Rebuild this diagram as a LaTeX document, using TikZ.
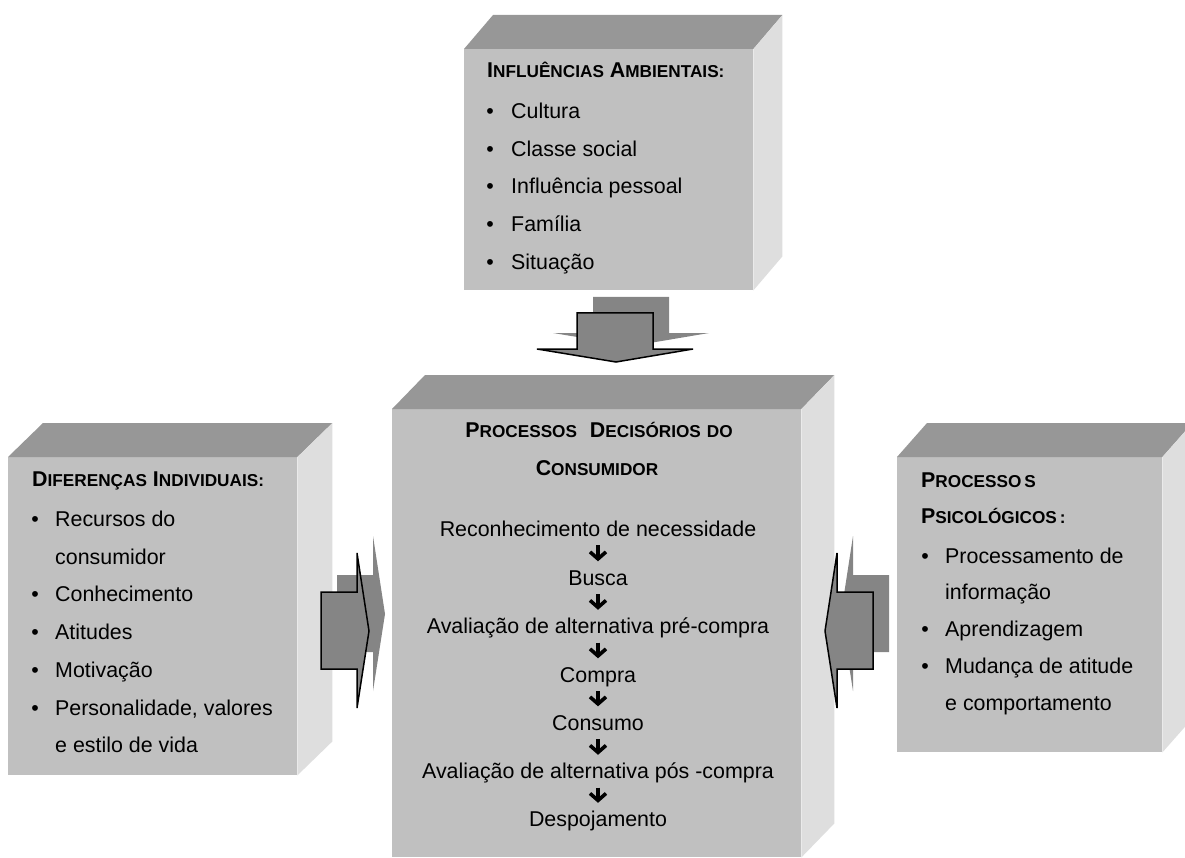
\documentclass[tikz,border=0pt]{standalone}
\usepackage{fontspec}
\setmainfont{Liberation Sans}
\usetikzlibrary{arrows.meta,calc}
\definecolor{frontgray}{HTML}{C0C0C0}
\definecolor{topgray}{HTML}{979797}
\definecolor{sidegray}{HTML}{DEDEDE}
\definecolor{arrowgray}{HTML}{858585}
\newcommand\capsc[2]{{\fontsize{21.4}{24}\selectfont #1}{\fontsize{17.2}{20}\selectfont #2}}
\newcommand\extrude[2]{%
  \fill[topf] (#1.north west) -- ++(#2,-34) -- ($(#1.north east)+(#2,-34)$) -- (#1.north east) -- cycle;
  \fill[sidef] (#1.north east) -- ++(#2,-34) -- ($(#1.south east)+(#2,-34)$) -- (#1.south east) -- cycle;}
\begin{document}
\begin{tikzpicture}[x=1pt,y=-1pt,
  front/.style={fill=frontgray, draw=none, inner sep=0, anchor=north west},
  topf/.style={fill=topgray},
  sidef/.style={fill=sidegray},
  body/.style={font=\fontsize{21.4}{24}\selectfont, inner sep=0, anchor=base west},
  bul/.style={font=\fontsize{21.4}{24}\selectfont, inner sep=0, anchor=base},
  hd/.style={font=\fontsize{21.4}{24}\selectfont\bfseries, inner sep=0, anchor=base west},
  hdc/.style={font=\fontsize{21.4}{24}\selectfont\bfseries, inner sep=0, anchor=base},
  stepnode/.style={font=\fontsize{21.4}{24}\selectfont, inner sep=0, anchor=base, text height=15.5pt, text depth=4.5pt},
  flow/.style={line width=3.6pt, -{Straight Barb[length=7pt,width=16pt,line width=3.6pt]}, shorten <=4.5pt, shorten >=8pt},
  blockarrow/.style={fill=arrowgray, draw=black, line width=1.5pt, line join=miter},
  shadowarrow/.style={fill=arrowgray}
]
\useasboundingbox (0,0) rectangle (1185,858);
\clip (0,0) rectangle (1185,858);

% boxes
\node[front, minimum width=289pt, minimum height=241pt] (env) at (464,49) {};
\extrude{env}{29}
\node[front, minimum width=409pt, minimum height=448pt] (dec) at (392,409) {};
\extrude{dec}{33}
\node[front, minimum width=289pt, minimum height=318pt] (ind) at (8,457) {};
\extrude{ind}{35}
\node[front, minimum width=265pt, minimum height=295pt] (psy) at (897,457) {};
\extrude{psy}{30}

% block arrows
\fill[shadowarrow] (593,297) -- (669,297) -- (669,333) -- (709,333) -- (632,346) -- (553,333) -- (593,333) -- cycle;
\draw[blockarrow] (577,313) -- (653,313) -- (653,349) -- (693,349) -- (616,362) -- (537,349) -- (577,349) -- cycle;
\fill[shadowarrow] (337,575) -- (373,575) -- (373,536) -- (385,614) -- (373,691) -- (373,652) -- (337,652) -- cycle;
\draw[blockarrow] (321,592) -- (357,592) -- (357,553) -- (369,631) -- (357,708) -- (357,669) -- (321,669) -- cycle;
\fill[shadowarrow] (889,575) -- (853,575) -- (853,536) -- (841,614) -- (853,691) -- (853,652) -- (889,652) -- cycle;
\draw[blockarrow] (873,592) -- (837,592) -- (837,553) -- (825,631) -- (837,708) -- (837,669) -- (873,669) -- cycle;

% top box text
\node[hd] (envh) at (487,78) {\capsc{I}{NFLUÊNCIAS} \capsc{A}{MBIENTAIS:}};
\foreach \t [count=\i] in {Cultura,Classe social,Influência pessoal,Família,Situação}{
  \node[bul] (envb\i) at (490,{118.3+37.75*(\i-1)}) {•};
  \node[body] (envt\i) at (511,{118.3+37.75*(\i-1)}) {\t};
}

% left box text
\node[hd] (indh) at (32,486) {\capsc{D}{IFERENÇAS} \capsc{I}{NDIVIDUAIS:}};
\node[bul] (indb1) at (35,526.5) {•};
\node[body] (indt1) at (55,526.5) {Recursos do};
\node[body] (indt1b) at (55,564.2) {consumidor};
\node[bul] (indb2) at (35,601.9) {•};
\node[body] (indt2) at (55,601.9) {Conhecimento};
\node[bul] (indb3) at (35,639.6) {•};
\node[body] (indt3) at (55,639.6) {Atitudes};
\node[bul] (indb4) at (35,677.3) {•};
\node[body] (indt4) at (55,677.3) {Motivação};
\node[bul] (indb5) at (35,715) {•};
\node[body] (indt5) at (55,715) {Personalidade, valores};
\node[body] (indt5b) at (55,752.7) {e estilo de vida};

% right box text
\node[hd] (psyh1) at (921,487) {\capsc{P}{ROCESSO\kern3pt S}};
\node[hd] (psyh2) at (921,523) {\capsc{P}{SICOLÓGICOS\kern3pt :}};
\node[bul] (psyb1) at (925,563) {•};
\node[body] (psyt1) at (945,563) {Processamento de};
\node[body] (psyt1b) at (945,599.5) {informação};
\node[bul] (psyb2) at (925,636.5) {•};
\node[body] (psyt2) at (945,636.5) {Aprendizagem};
\node[bul] (psyb3) at (925,673) {•};
\node[body] (psyt3) at (945,673) {Mudança de atitude};
\node[body] (psyt3b) at (945,710) {e comportamento};

% centre box text
\node[hdc] (dech1) at (599,437) {\capsc{P}{ROCESSOS}\hspace{0.6em}\capsc{D}{ECISÓRIOS} \capsc{}{DO}};
\node[hdc] (dech2) at (597,475) {\capsc{C}{ONSUMIDOR}};
\node[stepnode] (s1) at (598,536) {Reconhecimento de necessidade};
\node[stepnode] (s2) at (598,585) {Busca};
\node[stepnode] (s3) at (598,633.5) {Avaliação de alternativa pré-compra};
\node[stepnode] (s4) at (598,682) {Compra};
\node[stepnode] (s5) at (598,730) {Consumo};
\node[stepnode] (s6) at (598,778.5) {Avaliação de alternativa pós -compra};
\node[stepnode] (s7) at (598,826.5) {Despojamento};
\foreach \a/\b in {s1/s2,s2/s3,s3/s4,s4/s5,s5/s6,s6/s7}
  \draw[flow] (\a.south) -- (\b.north);
\end{tikzpicture}
\end{document}
